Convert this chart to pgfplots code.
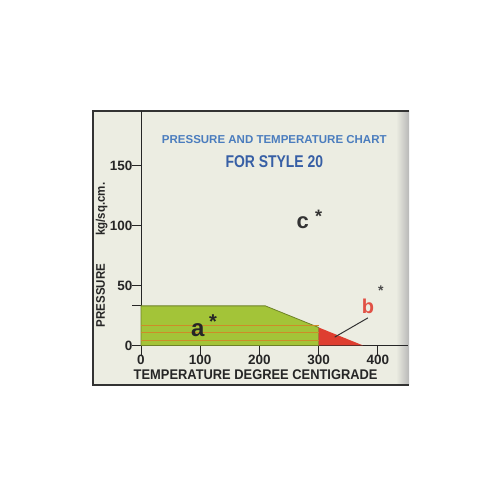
\documentclass[border=0pt]{standalone}
\usepackage{pgfplots}
\pgfplotsset{compat=1.18}
\usepackage{fontspec}
\setmainfont{Liberation Sans}[FakeStretch=0.82]
\newfontfamily\plainsans{Liberation Sans}
\newfontfamily\labelsans{Liberation Sans}[FakeStretch=0.92]
\definecolor{bgc}{RGB}{236,237,226}
\definecolor{greenc}{RGB}{163,196,56}
\definecolor{greenline}{RGB}{110,130,40}
\definecolor{redc}{RGB}{222,62,48}
\definecolor{linec}{RGB}{205,140,40}
\definecolor{titleblue}{RGB}{75,125,190}
\definecolor{titleblue2}{RGB}{55,95,165}
\begin{document}
\begin{tikzpicture}[x=1pt,y=1pt]
\fill[white] (0,0) rectangle (500,500);
\fill[bgc] (93,115) rectangle (409,389);
\shade[left color=bgc, right color=black!28] (396,115) rectangle (409,389);
\draw[black!80, line width=1.2pt] (409,389) -- (93,389) -- (93,115) -- (409,115);
\begin{axis}[
  at={(141pt,154.5pt)}, anchor=origin,
  scale only axis, width=266.6pt, height=234pt,
  xmin=0, xmax=450, ymin=0, ymax=195,
  axis x line=bottom, axis y line=left,
  axis line style={-, line width=1pt, black!85},
  tick align=outside, major tick length=9pt,
  tick style={black!85, line width=1pt},
  xtick={0,100,200,300,400}, ytick={0,50,100,150},
  extra y ticks={33}, extra y tick labels={},
  /pgf/number format/assume math mode=true,
  tick label style={font=\plainsans\bfseries\fontsize{13.5}{13.5}\selectfont, text=black!85},
  xticklabel style={yshift=3pt},
  yticklabel style={xshift=4pt},
  xlabel={\labelsans\bfseries\fontsize{14}{14}\selectfont TEMPERATURE DEGREE CENTIGRADE},
  xlabel style={at={(axis description cs:0.43,-0.126)}, anchor=center, text=black!85},
  ylabel={\labelsans\bfseries\fontsize{12.5}{12.5}\selectfont PRESSURE\hspace{28pt}kg/sq.cm.},
  ylabel style={at={(axis description cs:-0.148,0.387)}, anchor=center, text=black!85},
  clip=false,
]
\addplot[fill=greenc, draw=greenline, line width=0.8pt] coordinates {(0,0) (0,33) (210,33) (300,15) (300,0)} -- cycle;
\addplot[fill=redc, draw=none] coordinates {(300,0) (300,15) (375,0)} -- cycle;
\addplot[linec, line width=0.9pt] coordinates {(0,17) (300,17)};
\addplot[linec, line width=0.9pt] coordinates {(0,10.5) (300,10.5)};
\addplot[linec, line width=0.9pt] coordinates {(0,4) (300,4)};
\addplot[black!80, line width=1pt] coordinates {(383,23) (327,7)};
\node[font=\plainsans\bfseries\fontsize{24}{24}\selectfont, text=black!85] at (axis cs:96,13) {a};
\node[font=\plainsans\bfseries\fontsize{20}{20}\selectfont, text=black!85] at (axis cs:121.5,20) {*};
\node[font=\plainsans\bfseries\fontsize{22}{22}\selectfont, text=black!80] at (axis cs:273,102) {c};
\node[font=\plainsans\bfseries\fontsize{18}{18}\selectfont, text=black!80] at (axis cs:300,108) {*};
\node[font=\plainsans\bfseries\fontsize{20}{20}\selectfont, text=redc!90!white] at (axis cs:383,33) {b};
\node[font=\plainsans\bfseries\fontsize{14}{14}\selectfont, text=black!70] at (axis cs:405,46) {*};
\node[font=\plainsans\bfseries\fontsize{11.5}{11.5}\selectfont, text=titleblue] at (axis description cs:0.5,0.882) {PRESSURE AND TEMPERATURE CHART};
\node[font=\bfseries\fontsize{17}{17}\selectfont, text=titleblue2] at (axis description cs:0.5,0.784) {FOR STYLE 20};
\end{axis}
\end{tikzpicture}
\end{document}
